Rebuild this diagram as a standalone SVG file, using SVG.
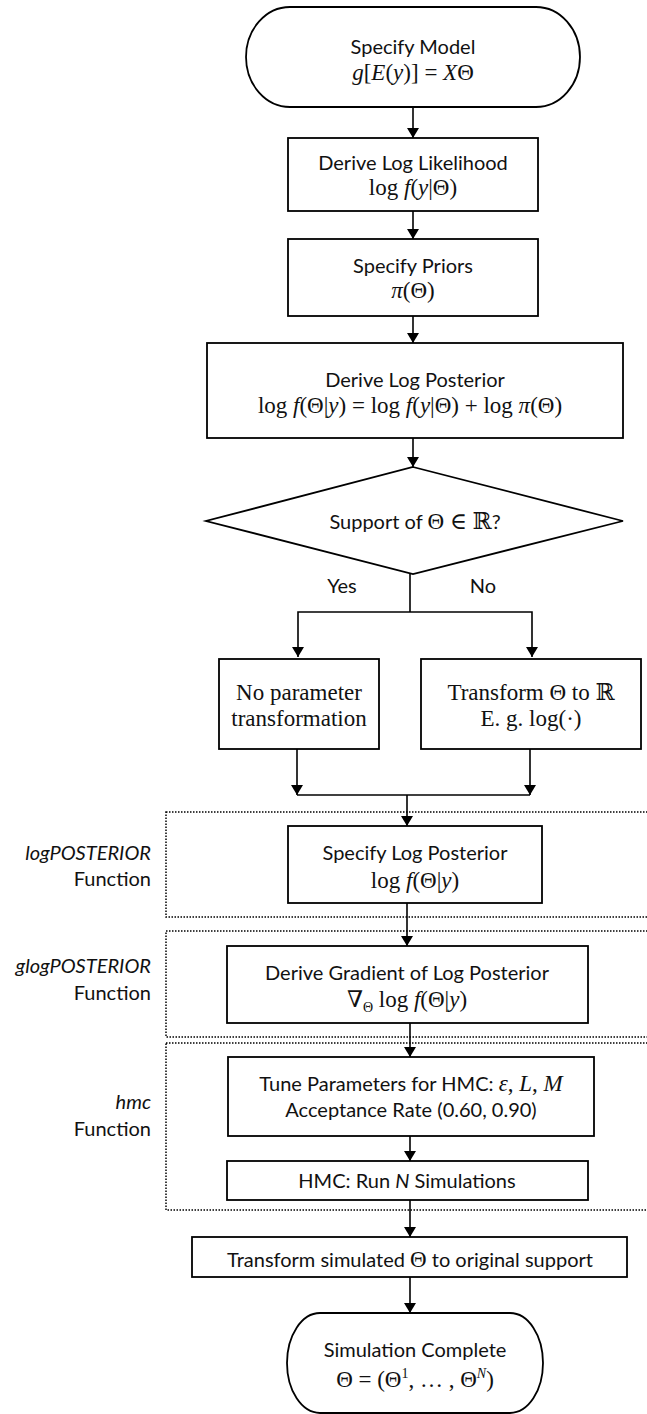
<svg xmlns="http://www.w3.org/2000/svg" width="647" height="1414" viewBox="0 0 647 1414">
<defs>
<marker id="ah" viewBox="0 0 10 12" refX="10" refY="6" markerWidth="10" markerHeight="12" markerUnits="userSpaceOnUse" orient="auto">
<path d="M0,0 L10,6 L0,12 Z" fill="#000"/>
</marker>
<style>
.n{fill:#fff;stroke:#000;stroke-width:1.8}
.grp{fill:none;stroke:#000;stroke-width:1.5;stroke-dasharray:1.5 1.5}
.c{fill:none;stroke:#000;stroke-width:1.6}
.a{marker-end:url(#ah)}
.t{font-family:Lato,"Liberation Sans",sans-serif;font-size:20px;fill:#111;text-anchor:middle}
.m{font-family:"Liberation Serif","DejaVu Serif",serif;font-size:23px;fill:#111;text-anchor:middle}
.i{font-style:italic}
.s{font-family:"Liberation Serif","DejaVu Serif",serif;font-size:23px}
.l{font-family:Lato,"Liberation Sans",sans-serif;font-size:20px;fill:#111;text-anchor:end}
</style>
</defs>
<g id="groups">
<rect class="grp" x="166" y="812" width="500" height="105"/>
<rect class="grp" x="166" y="931" width="500" height="106"/>
<rect class="grp" x="166" y="1043" width="500" height="167"/>
</g>
<g id="labels">
<text class="l" x="151" y="860"><tspan class="i">logPOSTERIOR</tspan></text>
<text class="l" x="151" y="886">Function</text>
<text class="l" x="151" y="973"><tspan class="i">glogPOSTERIOR</tspan></text>
<text class="l" x="151" y="1000">Function</text>
<text class="l" x="151" y="1109"><tspan class="i">hmc</tspan></text>
<text class="l" x="151" y="1136">Function</text>
</g>
<g id="connectors">
<line class="c a" x1="413" y1="107" x2="413" y2="138"/>
<line class="c a" x1="413" y1="211" x2="413" y2="239"/>
<line class="c a" x1="413" y1="316" x2="413" y2="343"/>
<line class="c a" x1="413" y1="438" x2="413" y2="467"/>
<polyline class="c" points="410,574 410,612"/>
<polyline class="c a" points="410,612 298,612 298,657"/>
<polyline class="c a" points="410,612 532,612 532,657"/>
<line class="c a" x1="297" y1="749" x2="297" y2="795"/>
<line class="c a" x1="530" y1="749" x2="530" y2="795"/>
<line class="c" x1="297" y1="795" x2="530" y2="795"/>
<line class="c a" x1="407" y1="795" x2="407" y2="826"/>
<line class="c a" x1="407" y1="903" x2="407" y2="946"/>
<line class="c a" x1="410" y1="1023" x2="410" y2="1057"/>
<line class="c a" x1="410" y1="1136" x2="410" y2="1161"/>
<line class="c a" x1="410" y1="1200" x2="410" y2="1237"/>
<line class="c a" x1="410" y1="1277" x2="410" y2="1313"/>
<text class="t" x="342" y="593">Yes</text>
<text class="t" x="483" y="593">No</text>
</g>
<g id="start">
<path class="n" d="M290,7 H536 A44,50 0 0 1 536,107 H290 A44,50 0 0 1 290,7 Z"/>
<text class="t" x="413" y="54">Specify Model</text>
<text class="m" x="413" y="80"><tspan class="i">g</tspan>[<tspan class="i">E</tspan>(<tspan class="i">y</tspan>)] = <tspan class="i">X</tspan>Θ</text>
</g>
<g id="likelihood">
<rect class="n" x="288" y="138" width="250" height="73"/>
<text class="t" x="413" y="170">Derive Log Likelihood</text>
<text class="m" x="413" y="195">log <tspan class="i">f</tspan>(<tspan class="i">y</tspan>|Θ)</text>
</g>
<g id="priors">
<rect class="n" x="288" y="239" width="250" height="77"/>
<text class="t" x="413" y="273">Specify Priors</text>
<text class="m" x="413" y="298"><tspan class="i">π</tspan>(Θ)</text>
</g>
<g id="posterior">
<rect class="n" x="207" y="343" width="416" height="95"/>
<text class="t" x="415" y="387">Derive Log Posterior</text>
<text class="m" x="410" y="413">log <tspan class="i">f</tspan>(Θ|<tspan class="i">y</tspan>) = log <tspan class="i">f</tspan>(<tspan class="i">y</tspan>|Θ) +  log <tspan class="i">π</tspan>(Θ)</text>
</g>
<g id="decision">
<polygon class="n" points="413,467 623,521 413,574 206,521"/>
<text class="t" x="415" y="529">Support of <tspan class="s">Θ ∈ ℝ</tspan>?</text>
</g>
<g id="notransform">
<rect class="n" x="219" y="659" width="160" height="90"/>
<text class="m" x="299" y="700">No parameter</text>
<text class="m" x="299" y="726">transformation</text>
</g>
<g id="transform">
<rect class="n" x="421" y="659" width="220" height="90"/>
<text class="m" x="531" y="700">Transform Θ to ℝ</text>
<text class="m" x="531" y="726">E. g. log(·)</text>
</g>
<g id="speclogpost">
<rect class="n" x="288" y="826" width="254" height="77"/>
<text class="t" x="415" y="860">Specify Log Posterior</text>
<text class="m" x="415" y="888">log <tspan class="i">f</tspan>(Θ|<tspan class="i">y</tspan>)</text>
</g>
<g id="gradient">
<rect class="n" x="227" y="946" width="361" height="77"/>
<text class="t" x="407" y="980">Derive Gradient of Log Posterior</text>
<text class="m" x="407" y="1007">∇<tspan font-size="14" dy="5">Θ</tspan><tspan dy="-5"> log </tspan><tspan class="i">f</tspan>(Θ|<tspan class="i">y</tspan>)</text>
</g>
<g id="tune">
<rect class="n" x="228" y="1057" width="366" height="79"/>
<text class="t" x="411" y="1091">Tune Parameters for HMC:  <tspan class="s i">ε</tspan><tspan class="s">, </tspan><tspan class="s i">L</tspan><tspan class="s">, </tspan><tspan class="s i">M</tspan></text>
<text class="t" x="411" y="1117">Acceptance Rate (0.60, 0.90)</text>
</g>
<g id="run">
<rect class="n" x="227" y="1161" width="361" height="39"/>
<text class="t" x="407" y="1188">HMC: Run <tspan class="i">N</tspan> Simulations</text>
</g>
<g id="backtransform">
<rect class="n" x="192" y="1237" width="435" height="40"/>
<text class="t" x="410" y="1267">Transform simulated <tspan class="s">Θ</tspan> to original support</text>
</g>
<g id="end">
<path class="n" d="M320,1313 H510 A33,50 0 0 1 510,1413 H320 A33,50 0 0 1 320,1313 Z"/>
<text class="t" x="415" y="1357">Simulation Complete</text>
<text class="m" x="415" y="1387">Θ = (Θ<tspan font-size="14" dy="-9">1</tspan><tspan dy="9">, … , Θ</tspan><tspan class="i" font-size="14" dy="-9">N</tspan><tspan dy="9">)</tspan></text>
</g>
</svg>
